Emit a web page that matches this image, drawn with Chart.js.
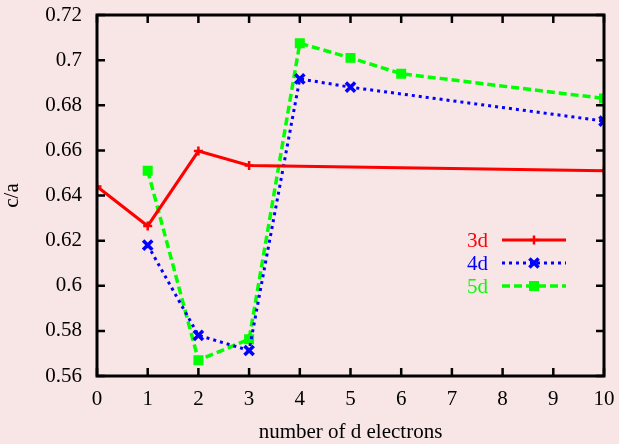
<!DOCTYPE html>
<html>
<head>
<meta charset="utf-8">
<script src="https://cdn.jsdelivr.net/npm/chart.js@4.4.1/dist/chart.umd.min.js"></script>
<style>
  html, body { margin: 0; padding: 0; background: #f8e5e6; }
  #wrap { width: 619px; height: 444px; }
</style>
</head>
<body>
<div id="wrap"><canvas id="c" width="619" height="444"></canvas></div>
<script>
// c/a ratio against number of d electrons for the 3d, 4d and 5d series
const seriesNames = ['3d', '4d', '5d'];
const x3d = [0, 1, 2, 3, 10];
const ca3d = [0.644, 0.6265, 0.6597, 0.6533, 0.651];
const x4d = [1, 2, 3, 4, 5, 10];
const ca4d = [0.618, 0.578, 0.5713, 0.6917, 0.688, 0.673];
const x5d = [1, 2, 3, 4, 5, 6, 10];
const ca5d = [0.651, 0.567, 0.5763, 0.7075, 0.701, 0.694, 0.683];
const xTicks = [0, 1, 2, 3, 4, 5, 6, 7, 8, 9, 10];
const yTicks = [0.56, 0.58, 0.6, 0.62, 0.64, 0.66, 0.68, 0.7, 0.72];

const FONT = '"Liberation Serif", "Times New Roman", serif';
const FS = 21;
const toPoints = (xs, ys) => xs.map((x, i) => ({ x: x, y: ys[i] }));

const datasets = [
  { label: seriesNames[0], data: toPoints(x3d, ca3d), borderColor: '#ff0000', backgroundColor: '#ff0000',
    borderWidth: 3, pointStyle: 'cross', pointRadius: 4.5, pointBorderWidth: 2.5 },
  { label: seriesNames[1], data: toPoints(x4d, ca4d), borderColor: '#0000ff', backgroundColor: '#0000ff',
    borderWidth: 3, borderDash: [3, 4], pointStyle: 'crossRot', pointRadius: 6.5, pointBorderWidth: 3.5 },
  { label: seriesNames[2], data: toPoints(x5d, ca5d), borderColor: '#00ff00', backgroundColor: '#00ff00',
    borderWidth: 3.5, borderDash: [8, 4], pointStyle: 'rect', pointRadius: 6, pointBorderWidth: 1.5 }
];
datasets.forEach(d => { d.fill = false; d.tension = 0; d.pointHoverRadius = d.pointRadius; });

// Pink page background, frame, inward ticks and the in-plot key
const decorations = {
  id: 'decorations',
  beforeDraw(chart) {
    const ctx = chart.ctx;
    ctx.save();
    ctx.fillStyle = '#f8e5e6';
    ctx.fillRect(0, 0, chart.width, chart.height);
    ctx.restore();
  },
  afterDatasetsDraw(chart) {
    const ctx = chart.ctx;
    const a = chart.chartArea;
    const xs = chart.scales.x, ys = chart.scales.y;
    const tl = 8;
    ctx.save();
    ctx.strokeStyle = '#000';
    ctx.lineWidth = 2.5;
    ctx.beginPath();
    xTicks.forEach(v => {
      const px = xs.getPixelForValue(v);
      ctx.moveTo(px, a.bottom); ctx.lineTo(px, a.bottom - tl);
      ctx.moveTo(px, a.top); ctx.lineTo(px, a.top + tl);
    });
    yTicks.forEach(v => {
      const py = ys.getPixelForValue(v);
      ctx.moveTo(a.left, py); ctx.lineTo(a.left + tl, py);
      ctx.moveTo(a.right, py); ctx.lineTo(a.right - tl, py);
    });
    ctx.stroke();
    ctx.lineWidth = 3;
    ctx.strokeRect(a.left, a.top, a.right - a.left, a.bottom - a.top);

    // key
    const textRight = a.right - 116;
    const lineL = a.right - 102, lineR = a.right - 38;
    const rowY = [a.top + 225, a.top + 248, a.top + 271];
    ctx.font = FS + 'px ' + FONT;
    ctx.textAlign = 'right';
    ctx.textBaseline = 'middle';
    chart.data.datasets.forEach((d, i) => {
      const y = rowY[i];
      ctx.fillStyle = d.borderColor;
      ctx.fillText(d.label, textRight, y + 1);
      ctx.strokeStyle = d.borderColor;
      ctx.lineWidth = d.borderWidth;
      ctx.setLineDash(d.borderDash || []);
      ctx.beginPath();
      ctx.moveTo(lineL, y); ctx.lineTo(lineR, y);
      ctx.stroke();
      ctx.setLineDash([]);
      ctx.lineWidth = d.pointBorderWidth;
      ctx.fillStyle = d.backgroundColor;
      Chart.helpers.drawPoint(ctx, { pointStyle: d.pointStyle, radius: d.pointRadius, rotation: 0, borderWidth: d.pointBorderWidth },
        (lineL + lineR) / 2, y);
    });
    ctx.restore();
  }
};

new Chart(document.getElementById('c'), {
  type: 'line',
  data: { datasets: datasets },
  plugins: [decorations],
  options: {
    responsive: false,
    animation: false,
    events: [],
    layout: { padding: { top: 15, right: 15, left: 0, bottom: 0 } },
    plugins: { legend: { display: false }, tooltip: { enabled: false } },
    scales: {
      x: {
        type: 'linear', min: 0, max: 10,
        afterBuildTicks: s => { s.ticks = xTicks.map(v => ({ value: v })); },
        afterFit: s => { s.height = 68; s.paddingLeft = 0; s.paddingRight = 0; },
        grid: { display: false, drawTicks: false },
        border: { display: false },
        ticks: { color: '#000', padding: 11, font: { family: FONT, size: FS }, maxRotation: 0,
                  callback: v => String(v) },
        title: { display: true, text: 'number of d electrons', color: '#000',
                 font: { family: FONT, size: FS }, padding: { top: 0, bottom: -1 } }
      },
      y: {
        type: 'linear', min: 0.56, max: 0.72,
        afterBuildTicks: s => { s.ticks = yTicks.map(v => ({ value: v })); },
        afterFit: s => { s.width = 97; s.paddingTop = 0; s.paddingBottom = 0; },
        grid: { display: false, drawTicks: false },
        border: { display: false },
        ticks: { color: '#000', padding: 15, font: { family: FONT, size: FS },
                 callback: v => String(parseFloat(Number(v).toFixed(2))) },
        title: { display: true, text: 'c/a', color: '#000',
                 font: { family: FONT, size: FS }, padding: { top: 0, bottom: 0 } }
      }
    }
  }
});
</script>
</body>
</html>
